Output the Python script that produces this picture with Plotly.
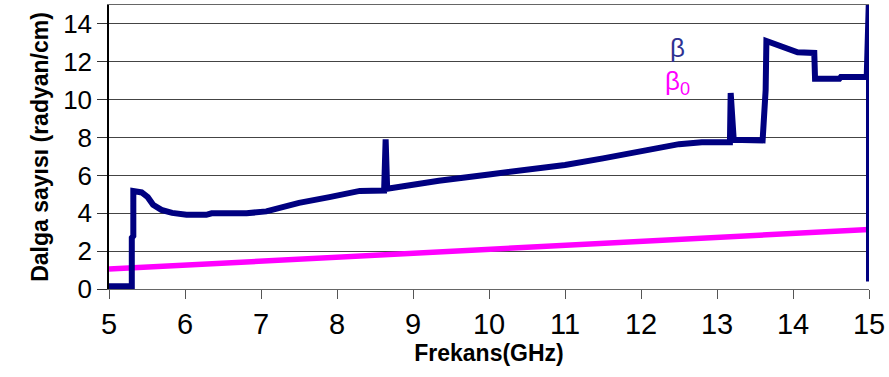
import plotly.graph_objects as go

# Frequency (GHz) and wavenumber beta (rad/cm)
beta_x = [5.00, 5.30, 5.30, 5.32, 5.32, 5.43, 5.51, 5.58, 5.69, 5.83, 6.02, 6.28,
          6.35, 6.81, 7.07, 7.28, 7.50, 7.90, 8.12, 8.30, 8.62, 8.64, 8.66, 9.00,
          9.34, 10.0, 10.5, 11.0, 11.5, 12.0, 12.5, 12.8, 13.17, 13.18, 13.22,
          13.60, 13.62, 13.64, 13.65, 13.80, 13.95, 14.06, 14.28, 14.29, 14.61,
          14.63, 14.97, 15.0, 15.0]
beta_y = [0.15, 0.15, 2.70, 2.80, 5.17, 5.10, 4.85, 4.45, 4.18, 4.02, 3.92, 3.92,
          4.00, 4.00, 4.10, 4.35, 4.55, 4.85, 5.05, 5.18, 5.20, 7.90, 5.30, 5.55,
          5.72, 6.05, 6.30, 6.55, 6.90, 7.30, 7.65, 7.75, 7.75, 10.35, 7.88,
          7.85, 9.00, 10.50, 13.10, 12.85, 12.60, 12.50, 12.47, 11.10, 11.10,
          11.20, 11.20, 15.50, 0.40]

# Free-space wavenumber beta0 (rad/cm)
beta0_x = [5, 6, 7, 8, 9, 10, 11, 12, 13, 14, 15]
beta0_y = [1.05, 1.26, 1.47, 1.68, 1.89, 2.09, 2.30, 2.51, 2.72, 2.93, 3.14]

x_ticks = [5, 6, 7, 8, 9, 10, 11, 12, 13, 14, 15]
y_ticks = [0, 2, 4, 6, 8, 10, 12, 14]

NAVY = "#000080"
MAGENTA = "#FF00FF"

fig = go.Figure()
fig.add_trace(go.Scatter(x=beta0_x, y=beta0_y, mode="lines",
                         line=dict(color=MAGENTA, width=5.5), showlegend=False))
fig.add_trace(go.Scatter(x=beta_x, y=beta_y, mode="lines",
                         line=dict(color=NAVY, width=6), showlegend=False))

fig.add_annotation(x=12.48, y=12.74, text="β", showarrow=False,
                   font=dict(family="Arial, Liberation Sans", size=26, color="#2E3192"),
                   xanchor="center", yanchor="middle")
fig.add_annotation(x=12.48, y=10.9, text="β<sub>0</sub>", showarrow=False,
                   font=dict(family="Arial, Liberation Sans", size=26, color=MAGENTA),
                   xanchor="center", yanchor="middle")

fig.update_layout(
    width=889, height=377,
    margin=dict(l=109, r=17, t=4, b=88),
    paper_bgcolor="white", plot_bgcolor="white",
    font=dict(family="Arial, Liberation Sans", color="black"),
)
fig.update_xaxes(
    range=[5, 15], tickvals=x_ticks, ticktext=[str(v) for v in x_ticks],
    ticks="outside", ticklen=9, tickcolor="#555", tickwidth=1,
    showline=True, linecolor="#666", linewidth=1, mirror=True,
    showgrid=False, zeroline=False,
    tickfont=dict(family="Liberation Sans Narrow, Arial Narrow, Arial", size=29),
    title=dict(text="<b>Frekans(GHz)</b>", standoff=3,
               font=dict(family="Arial, Liberation Sans", size=23)),
)
fig.update_yaxes(
    range=[0, 15], tickvals=y_ticks, ticktext=[str(v) for v in y_ticks],
    ticks="outside", ticklen=10, tickcolor="#333", tickwidth=1,
    showline=True, linecolor="black", linewidth=1.5,
    showgrid=True, gridcolor="#444", gridwidth=1, zeroline=False,
    tickfont=dict(family="Arial, Liberation Sans", size=26),
    title=dict(text="<b>Dalga sayısı (radyan/cm)</b>", standoff=8,
               font=dict(family="Arial, Liberation Sans", size=23)),
)

fig.write_html("out.html")
